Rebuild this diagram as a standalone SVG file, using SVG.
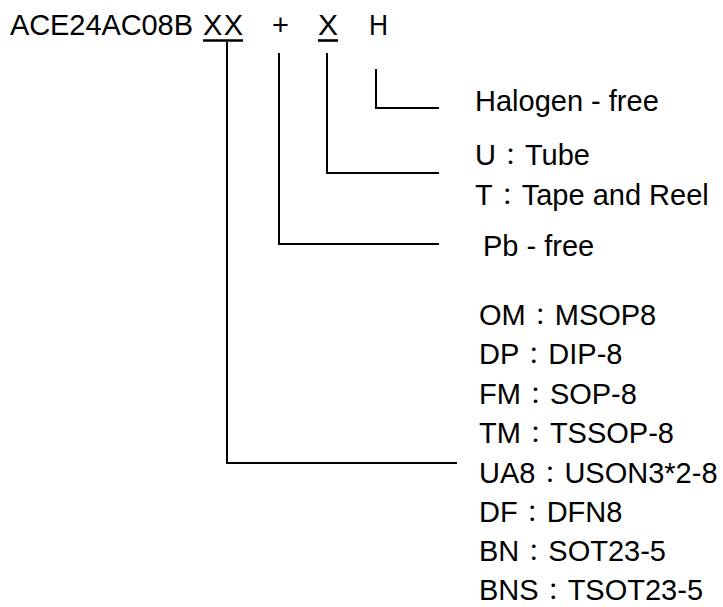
<svg xmlns="http://www.w3.org/2000/svg" width="723" height="607" viewBox="0 0 723 607">
<style>
text{font-family:"Liberation Sans","Noto Sans CJK JP",Arial,sans-serif;font-size:29px;fill:#000}
.c{font-family:"Noto Sans CJK JP","Noto Sans CJK TC",sans-serif;font-size:24px}
.ln{fill:none;stroke:#000;stroke-width:2}
.ul{stroke:#000;stroke-width:2.6}
</style>
<rect width="723" height="607" fill="#fff"/>
<g id="title">
<text x="10" y="35" textLength="183" lengthAdjust="spacing">ACE24AC08B</text>
<text x="203" y="35" textLength="40" lengthAdjust="spacing">XX</text>
<text x="272" y="35">+</text>
<text x="318" y="35" textLength="20" lengthAdjust="spacingAndGlyphs">X</text>
<text x="369" y="35" textLength="19" lengthAdjust="spacingAndGlyphs">H</text>
<line class="ul" x1="203" y1="40.5" x2="243" y2="40.5"/>
<line class="ul" x1="318" y1="40.5" x2="338" y2="40.5"/>
</g>
<g id="connectors">
<polyline class="ln" points="227,42 227,463 457,463"/>
<polyline class="ln" points="279,53 279,244 439,244"/>
<polyline class="ln" points="327,53 327,173 439,173"/>
<polyline class="ln" points="376,69 376,108 439,108"/>
</g>
<g id="halogen"><text x="475" y="111">Halogen - free</text></g>
<g id="tube"><text x="475" y="165">U<tspan class="c" dx="2.5">：</tspan><tspan dx="2.5">Tube</tspan></text></g>
<g id="tape"><text x="475" y="205">T<tspan class="c" dx="2.5">：</tspan><tspan dx="2.5">Tape and Reel</tspan></text></g>
<g id="pbfree"><text x="483" y="256">Pb - free</text></g>
<g id="packages">
<text x="479" y="325">OM<tspan class="c" dx="2.5">：</tspan><tspan dx="2.5">MSOP8</tspan></text>
<text x="479" y="364">DP<tspan class="c" dx="2.5">：</tspan><tspan dx="2.5">DIP-8</tspan></text>
<text x="479" y="404">FM<tspan class="c" dx="2.5">：</tspan><tspan dx="2.5">SOP-8</tspan></text>
<text x="479" y="443">TM<tspan class="c" dx="2.5">：</tspan><tspan dx="2.5">TSSOP-8</tspan></text>
<text x="479" y="483">UA8<tspan class="c" dx="2.5">：</tspan><tspan dx="2.5">USON3*2-8</tspan></text>
<text x="479" y="522">DF<tspan class="c" dx="2.5">：</tspan><tspan dx="2.5">DFN8</tspan></text>
<text x="479" y="561">BN<tspan class="c" dx="2.5">：</tspan><tspan dx="2.5">SOT23-5</tspan></text>
<text x="479" y="600">BNS<tspan class="c" dx="2.5">：</tspan><tspan dx="2.5">TSOT23-5</tspan></text>
</g>
</svg>
